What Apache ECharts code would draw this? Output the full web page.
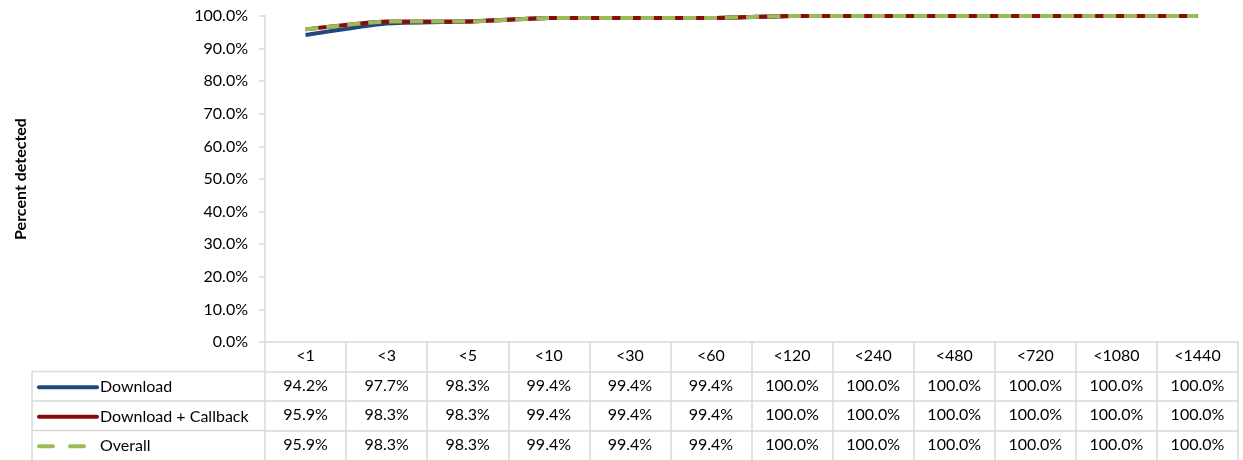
<!DOCTYPE html>
<html>
<head>
<meta charset="utf-8">
<script src="https://cdn.jsdelivr.net/npm/echarts@6/dist/echarts.min.js"></script>
<style>
  html, body {margin: 0; padding: 0; background: #fff;}
  #main {width: 1243px; height: 460px;}
</style>
</head>
<body>
<div id="main"></div>
<script>
const categories = ['<1', '<3', '<5', '<10', '<30', '<60', '<120', '<240', '<480', '<720', '<1080', '<1440'];
const download = [0.942, 0.977, 0.983, 0.994, 0.994, 0.994, 1.0, 1.0, 1.0, 1.0, 1.0, 1.0];
const downloadCallback = [0.959, 0.983, 0.983, 0.994, 0.994, 0.994, 1.0, 1.0, 1.0, 1.0, 1.0, 1.0];
const overall = [0.959, 0.983, 0.983, 0.994, 0.994, 0.994, 1.0, 1.0, 1.0, 1.0, 1.0, 1.0];
const seriesNames = ['Download', 'Download + Callback', 'Overall'];
const colors = ['#1f497d', '#8b0a0a', '#9bbb59'];

const font = 'Lato, "Open Sans", sans-serif';
const border = '#d9d9d9';
const rowH = 29.5;
const gridBottom = 118;

const pct = (v) => (v * 100).toFixed(1) + '%';

// one category axis for the header row, then one per series row of the data table
const rowValues = [null, download, downloadCallback, overall];
const xAxes = rowValues.map((vals, i) => ({
    type: 'category',
    data: categories,
    position: 'bottom',
    offset: Math.round(i * rowH),
    boundaryGap: true,
    axisLine: {show: true, lineStyle: {color: border, width: 1.5}},
    axisTick: {show: true, length: Math.round(rowH), lineStyle: {color: border, width: 1.5}},
    axisLabel: {
        color: '#000',
        fontFamily: font,
        fontSize: 16,
        margin: 6,
        interval: 0,
        formatter: (v, idx) => vals ? pct(vals[idx]) : v,
    },
    splitLine: {show: false},
}));

const seriesData = [download, downloadCallback, overall];

var myChart = echarts.init(document.getElementById('main'));

var option = {
    animation: false,
    grid: {left: 265, right: 5, top: 16, bottom: gridBottom, containLabel: false},
    legend: seriesNames.map((name, i) => ({
        data: [name],
        left: 37,
        top: 460 - gridBottom + rowH * (i + 1) + rowH / 2 - 7,
        itemWidth: 58,
        itemHeight: 14,
        itemGap: 0,
        padding: 0,
        itemStyle: {opacity: 0},
        lineStyle: {width: 4, type: i === 2 ? [14, 17] : 'solid', cap: 'round'},
        textStyle: {color: '#000', fontFamily: font, fontSize: 16, padding: [0, 0, 0, -2]},
    })),
    xAxis: xAxes,
    yAxis: {
        type: 'value',
        min: 0,
        max: 1,
        interval: 0.1,
        name: 'Percent detected',
        nameLocation: 'middle',
        nameGap: 236,
        nameTextStyle: {color: '#000', fontFamily: font, fontSize: 16, fontWeight: 'bold'},
        axisLine: {show: true, lineStyle: {color: border, width: 1.5}},
        axisTick: {show: true, length: 6, lineStyle: {color: border, width: 1.5}},
        axisLabel: {color: '#000', fontFamily: font, fontSize: 16, margin: 17, formatter: (v) => pct(v)},
        splitLine: {show: false},
    },
    series: seriesNames.map((name, i) => ({
        name: name,
        type: 'line',
        data: seriesData[i],
        xAxisIndex: 0,
        symbol: 'none',
        smooth: 0.15,
        color: colors[i],
        lineStyle: {color: colors[i], width: 4, type: i === 2 ? [13, 8] : 'solid', cap: 'butt'},
    })),
    graphic: [],
};

myChart.setOption(option);

// left column of the data table that holds the legend keys
const top0 = 460 - gridBottom;
const lines = [];
for (let r = 1; r <= 3; r++) {
    lines.push({type: 'line', shape: {x1: 32, y1: top0 + rowH * r, x2: 265, y2: top0 + rowH * r},
        style: {stroke: border, lineWidth: 1.5}});
}
lines.push({type: 'line', shape: {x1: 32, y1: top0 + rowH, x2: 32, y2: 460},
    style: {stroke: border, lineWidth: 1.5}});
myChart.setOption({graphic: lines});
</script>
</body>
</html>
